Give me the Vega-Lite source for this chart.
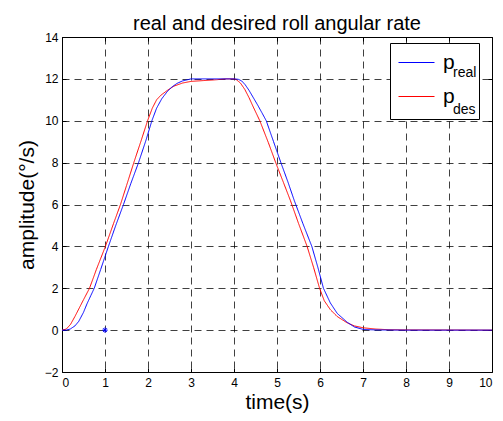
{
  "$schema": "https://vega.github.io/schema/vega-lite/v6.json",
  "width": 430,
  "height": 335,
  "autosize": {"type": "none"},
  "padding": {"left": 62, "top": 37, "right": 11, "bottom": 49},
  "background": "white",
  "config": {
    "font": "Liberation Sans",
    "view": {"stroke": "#000", "strokeWidth": 1},
    "axis": {
      "labelFont": "Liberation Sans",
      "labelFontSize": 12,
      "labelColor": "#000",
      "tickColor": "#000",
      "tickSize": -4,
      "domain": false,
      "titleFont": "Liberation Sans",
      "titleFontSize": 21,
      "titleFontWeight": "normal",
      "titleColor": "#000"
    },
    "legend": {"labelFont": "Liberation Sans", "labelColor": "#000"}
  },
  "title": {
    "text": "real and desired roll angular rate",
    "fontSize": 20,
    "fontWeight": "normal",
    "color": "#000",
    "font": "Liberation Sans",
    "baseline": "alphabetic",
    "offset": -19
  },
  "datasets": {
    "lines": [
      {"t": 0, "v": 0, "series": "p_des", "sub": "des"},
      {"t": 0.1, "v": 0.05, "series": "p_des", "sub": "des"},
      {"t": 0.2, "v": 0.28, "series": "p_des", "sub": "des"},
      {"t": 0.3, "v": 0.65, "series": "p_des", "sub": "des"},
      {"t": 0.4, "v": 1.05, "series": "p_des", "sub": "des"},
      {"t": 0.5, "v": 1.45, "series": "p_des", "sub": "des"},
      {"t": 0.64, "v": 2.0, "series": "p_des", "sub": "des"},
      {"t": 0.8, "v": 2.9, "series": "p_des", "sub": "des"},
      {"t": 1.01, "v": 4.0, "series": "p_des", "sub": "des"},
      {"t": 1.2, "v": 5.1, "series": "p_des", "sub": "des"},
      {"t": 1.36, "v": 6.0, "series": "p_des", "sub": "des"},
      {"t": 1.5, "v": 6.9, "series": "p_des", "sub": "des"},
      {"t": 1.67, "v": 8.0, "series": "p_des", "sub": "des"},
      {"t": 1.84, "v": 9.05, "series": "p_des", "sub": "des"},
      {"t": 1.99, "v": 10.0, "series": "p_des", "sub": "des"},
      {"t": 2.1, "v": 10.6, "series": "p_des", "sub": "des"},
      {"t": 2.2, "v": 11.0, "series": "p_des", "sub": "des"},
      {"t": 2.3, "v": 11.22, "series": "p_des", "sub": "des"},
      {"t": 2.45, "v": 11.45, "series": "p_des", "sub": "des"},
      {"t": 2.6, "v": 11.65, "series": "p_des", "sub": "des"},
      {"t": 2.8, "v": 11.8, "series": "p_des", "sub": "des"},
      {"t": 3.0, "v": 11.88, "series": "p_des", "sub": "des"},
      {"t": 3.3, "v": 11.92, "series": "p_des", "sub": "des"},
      {"t": 3.6, "v": 11.96, "series": "p_des", "sub": "des"},
      {"t": 3.8, "v": 12.0, "series": "p_des", "sub": "des"},
      {"t": 4.0, "v": 12.0, "series": "p_des", "sub": "des"},
      {"t": 4.05, "v": 11.97, "series": "p_des", "sub": "des"},
      {"t": 4.15, "v": 11.8, "series": "p_des", "sub": "des"},
      {"t": 4.25, "v": 11.5, "series": "p_des", "sub": "des"},
      {"t": 4.35, "v": 11.1, "series": "p_des", "sub": "des"},
      {"t": 4.45, "v": 10.65, "series": "p_des", "sub": "des"},
      {"t": 4.6, "v": 10.0, "series": "p_des", "sub": "des"},
      {"t": 4.8, "v": 8.95, "series": "p_des", "sub": "des"},
      {"t": 4.97, "v": 8.0, "series": "p_des", "sub": "des"},
      {"t": 5.15, "v": 7.05, "series": "p_des", "sub": "des"},
      {"t": 5.31, "v": 6.2, "series": "p_des", "sub": "des"},
      {"t": 5.5, "v": 5.1, "series": "p_des", "sub": "des"},
      {"t": 5.7, "v": 4.0, "series": "p_des", "sub": "des"},
      {"t": 5.85, "v": 3.0, "series": "p_des", "sub": "des"},
      {"t": 5.99, "v": 2.0, "series": "p_des", "sub": "des"},
      {"t": 6.1, "v": 1.4, "series": "p_des", "sub": "des"},
      {"t": 6.24, "v": 0.98, "series": "p_des", "sub": "des"},
      {"t": 6.4, "v": 0.65, "series": "p_des", "sub": "des"},
      {"t": 6.63, "v": 0.35, "series": "p_des", "sub": "des"},
      {"t": 6.8, "v": 0.2, "series": "p_des", "sub": "des"},
      {"t": 7.01, "v": 0.11, "series": "p_des", "sub": "des"},
      {"t": 7.3, "v": 0.05, "series": "p_des", "sub": "des"},
      {"t": 7.6, "v": 0.02, "series": "p_des", "sub": "des"},
      {"t": 8.0, "v": 0.01, "series": "p_des", "sub": "des"},
      {"t": 10.0, "v": 0, "series": "p_des", "sub": "des"},
      {"t": 0, "v": 0, "series": "p_real", "sub": "real"},
      {"t": 0.1, "v": 0.0, "series": "p_real", "sub": "real"},
      {"t": 0.19, "v": 0.05, "series": "p_real", "sub": "real"},
      {"t": 0.3, "v": 0.2, "series": "p_real", "sub": "real"},
      {"t": 0.39, "v": 0.42, "series": "p_real", "sub": "real"},
      {"t": 0.5, "v": 0.85, "series": "p_real", "sub": "real"},
      {"t": 0.58, "v": 1.25, "series": "p_real", "sub": "real"},
      {"t": 0.67, "v": 1.65, "series": "p_real", "sub": "real"},
      {"t": 0.75, "v": 2.0, "series": "p_real", "sub": "real"},
      {"t": 0.9, "v": 2.9, "series": "p_real", "sub": "real"},
      {"t": 1.08, "v": 4.0, "series": "p_real", "sub": "real"},
      {"t": 1.25, "v": 5.0, "series": "p_real", "sub": "real"},
      {"t": 1.43, "v": 6.0, "series": "p_real", "sub": "real"},
      {"t": 1.6, "v": 7.0, "series": "p_real", "sub": "real"},
      {"t": 1.78, "v": 8.0, "series": "p_real", "sub": "real"},
      {"t": 1.95, "v": 9.05, "series": "p_real", "sub": "real"},
      {"t": 2.09, "v": 10.0, "series": "p_real", "sub": "real"},
      {"t": 2.2, "v": 10.6, "series": "p_real", "sub": "real"},
      {"t": 2.32, "v": 11.05, "series": "p_real", "sub": "real"},
      {"t": 2.45, "v": 11.4, "series": "p_real", "sub": "real"},
      {"t": 2.55, "v": 11.6, "series": "p_real", "sub": "real"},
      {"t": 2.67, "v": 11.78, "series": "p_real", "sub": "real"},
      {"t": 2.8, "v": 11.9, "series": "p_real", "sub": "real"},
      {"t": 3.0, "v": 12.0, "series": "p_real", "sub": "real"},
      {"t": 3.5, "v": 12.0, "series": "p_real", "sub": "real"},
      {"t": 4.0, "v": 12.0, "series": "p_real", "sub": "real"},
      {"t": 4.1, "v": 11.98, "series": "p_real", "sub": "real"},
      {"t": 4.18, "v": 11.9, "series": "p_real", "sub": "real"},
      {"t": 4.26, "v": 11.72, "series": "p_real", "sub": "real"},
      {"t": 4.35, "v": 11.45, "series": "p_real", "sub": "real"},
      {"t": 4.45, "v": 11.1, "series": "p_real", "sub": "real"},
      {"t": 4.55, "v": 10.75, "series": "p_real", "sub": "real"},
      {"t": 4.65, "v": 10.38, "series": "p_real", "sub": "real"},
      {"t": 4.75, "v": 10.0, "series": "p_real", "sub": "real"},
      {"t": 4.92, "v": 9.0, "series": "p_real", "sub": "real"},
      {"t": 5.09, "v": 8.0, "series": "p_real", "sub": "real"},
      {"t": 5.25, "v": 7.1, "series": "p_real", "sub": "real"},
      {"t": 5.4, "v": 6.2, "series": "p_real", "sub": "real"},
      {"t": 5.6, "v": 5.1, "series": "p_real", "sub": "real"},
      {"t": 5.81, "v": 4.0, "series": "p_real", "sub": "real"},
      {"t": 5.95, "v": 3.0, "series": "p_real", "sub": "real"},
      {"t": 6.08, "v": 2.0, "series": "p_real", "sub": "real"},
      {"t": 6.24, "v": 1.3, "series": "p_real", "sub": "real"},
      {"t": 6.4, "v": 0.8, "series": "p_real", "sub": "real"},
      {"t": 6.63, "v": 0.38, "series": "p_real", "sub": "real"},
      {"t": 6.8, "v": 0.15, "series": "p_real", "sub": "real"},
      {"t": 7.01, "v": 0.03, "series": "p_real", "sub": "real"},
      {"t": 7.3, "v": 0.01, "series": "p_real", "sub": "real"},
      {"t": 8.0, "v": 0, "series": "p_real", "sub": "real"},
      {"t": 10.0, "v": 0, "series": "p_real", "sub": "real"}
    ],
    "marker": [{"t": 1, "v": 0}]
  },
  "layer": [
    {
      "data": {"name": "lines"},
      "mark": {"type": "line", "strokeWidth": 1, "clip": true},
      "encoding": {
        "x": {
          "field": "t",
          "type": "quantitative",
          "scale": {"domain": [0, 10], "nice": false, "zero": false},
          "axis": {
            "orient": "bottom",
            "values": [0, 1, 2, 3, 4, 5, 6, 7, 8, 9, 10],
            "grid": true,
            "gridColor": "#000",
            "gridOpacity": 0.75,
            "gridDash": [7, 5],
            "labelPadding": 9,
            "title": "time(s)",
            "titlePadding": 3
          }
        },
        "y": {
          "field": "v",
          "type": "quantitative",
          "scale": {"domain": [-2, 14], "nice": false, "zero": false},
          "axis": {
            "orient": "left",
            "values": [-2, 0, 2, 4, 6, 8, 10, 12, 14],
            "grid": true,
            "gridColor": "#000",
            "gridOpacity": 0.75,
            "gridDash": [7, 5],
            "labelPadding": 8,
            "title": "amplitude(°/s)",
            "titlePadding": 7
          }
        },
        "color": {
          "field": "series",
          "type": "nominal",
          "scale": {"domain": ["p_real", "p_des"], "range": ["#0000ff", "#ff0000"]},
          "legend": {
            "orient": "none",
            "legendX": 328,
            "legendY": 6,
            "title": null,
            "symbolType": "stroke",
            "symbolSize": 1296,
            "symbolStrokeWidth": 1,
            "symbolOffset": 7,
            "labelOffset": 8,
            "labelFontSize": 21,
            "labelExpr": "'p'",
            "rowPadding": 5,
            "padding": 1,
            "zindex": 2
          }
        },
        "strokeDash": {
          "field": "sub",
          "type": "nominal",
          "scale": {"domain": ["real", "des"], "range": [[1, 0], [1, 0]]},
          "legend": {
            "orient": "none",
            "legendX": 328,
            "legendY": 6,
            "title": null,
            "symbolSize": 4096,
            "symbolStrokeWidth": 0,
            "symbolOpacity": 0,
            "labelOffset": -3,
            "labelFontSize": 14,
            "labelBaseline": "alphabetic",
            "labelExpr": "datum.label + '\u00a0\u00a0'",
            "rowPadding": 2,
            "padding": 2,
            "strokeColor": "#000",
            "fillColor": "#fff",
            "zindex": 1
          }
        }
      }
    },
    {
      "data": {"name": "marker"},
      "mark": {
        "type": "point",
        "shape": "M-1,0L1,0M0,-1L0,1M-0.7,-0.7L0.7,0.7M-0.7,0.7L0.7,-0.7",
        "filled": false,
        "color": "#0000ff",
        "size": 30,
        "strokeWidth": 1,
        "opacity": 1
      },
      "encoding": {
        "x": {
          "field": "t",
          "type": "quantitative",
          "axis": {"orient": "top", "values": [0, 1, 2, 3, 4, 5, 6, 7, 8, 9, 10], "labels": false, "grid": false, "title": null}
        },
        "y": {
          "field": "v",
          "type": "quantitative",
          "axis": {"orient": "right", "values": [-2, 0, 2, 4, 6, 8, 10, 12, 14], "labels": false, "grid": false, "title": null}
        }
      }
    }
  ],
  "resolve": {"axis": {"x": "independent", "y": "independent"}}
}
